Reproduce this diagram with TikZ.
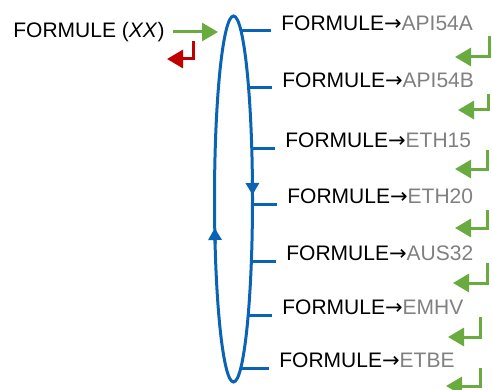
\documentclass[tikz,border=0pt]{standalone}
\usepackage{fontspec}
\setmainfont{Liberation Sans}
\newfontfamily\arrowfont{DejaVu Sans}
\usetikzlibrary{arrows.meta}
\definecolor{cLoop}{HTML}{0A63B5}
\definecolor{cGo}{HTML}{6AAB3F}
\definecolor{cBack}{HTML}{C00000}
\definecolor{muted}{HTML}{808080}
\newcommand{\toarrow}{{\arrowfont →}}

\begin{document}
\begin{tikzpicture}[
  % one unit = one pixel of the 492x390 sketch, y pointing down
  x=0.5pt, y=-0.5pt,
  font=\fontsize{10.5}{12}\selectfont,
  loopline/.style={draw=cLoop, line width=1.5pt},
  looptip/.style={loopline, -{Triangle[length=6pt, width=6.5pt]}},
  goarr/.style={-{Triangle[length=8pt, width=9pt]}, line width=1.5pt, color=cGo},
  backarr/.style={-{Triangle[length=8pt, width=9pt]}, line width=1.5pt, color=cBack},
  fuel/.style={anchor=west, inner sep=5pt, text=black},
]
  \useasboundingbox (0,0) rectangle (492,390);
  \def\cx{233.5}\def\cy{199}\def\rx{19}\def\ry{183}

  % --- the loop ---
  \draw[loopline] (\cx,\cy) ellipse [x radius=\rx, y radius=\ry];
  \draw[looptip] ({\cx+\rx*sqrt(1-((180-\cy)/\ry)^2)},180)
    -- ({\cx+\rx*sqrt(1-((195-\cy)/\ry)^2)},195);
  \draw[looptip] ({\cx-\rx*sqrt(1-((244-\cy)/\ry)^2)},244)
    -- ({\cx-\rx*sqrt(1-((228-\cy)/\ry)^2)},228);

  % --- entry and exit on the left ---
  \node[anchor=west, inner sep=4pt] (src) at (5,32) {FORMULE (\textit{XX})};
  \coordinate (in) at (218,32);
  \draw[goarr] (src.east) -- (in);
  \coordinate (backtop) at (193,41);
  \coordinate (backend) at (167,59);
  \draw[backarr] (backtop) |- (backend);

  % --- branches, each with its return hook ---
  \foreach \i/\y/\tx/\name/\hx/\ht/\hb/\tip in {
      1/31/281/API54A/489/36/57/455,
      2/88/282/API54B/488/94/110/458,
      3/148/285/ETH15/487/150/169/455,
      4/204/287/ETH20/487/210/228/455,
      5/261/286/AUS32/487/263/283/453,
      6/315/282/EMHV/480/317/337/448,
      7/368/279/ETBE/480/368/386/446%
  }{
    \coordinate (e\i) at ({\cx+\rx*sqrt(1-((\y-\cy)/\ry)^2)},\y);
    \node[fuel] (t\i) at ({\tx-10},\y)
      {FORMULE\toarrow\textcolor{muted}{\name}};
    \draw[loopline] (e\i) -- (t\i.west);
    \coordinate (h\i) at (\hx,\ht);
    \coordinate (r\i) at (\tip,\hb);
    \draw[goarr] (h\i) |- (r\i);
  }
\end{tikzpicture}
\end{document}
